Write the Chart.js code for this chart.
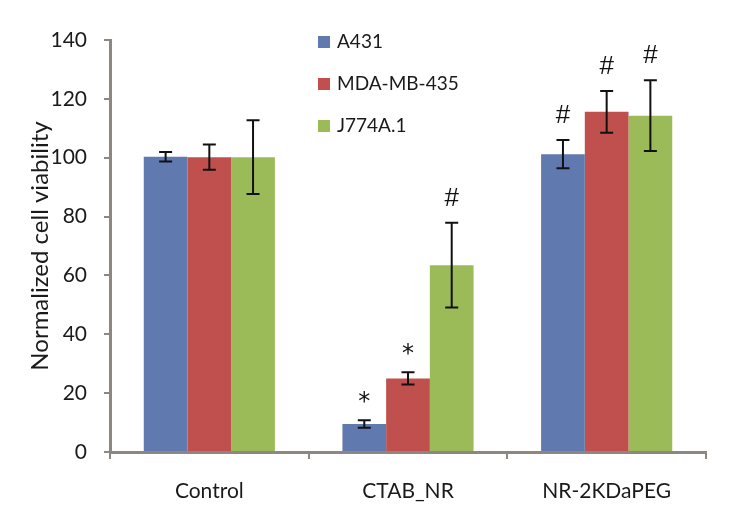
<!DOCTYPE html>
<html>
<head>
<meta charset="utf-8">
<script src="https://cdn.jsdelivr.net/npm/chart.js@4.4.1/dist/chart.umd.min.js"></script>
<style>
  html, body { margin: 0; padding: 0; background: #fff; }
  #wrap { width: 750px; height: 524px; }
</style>
</head>
<body>
<div id="wrap"><canvas id="cellChart" width="750" height="524"></canvas></div>
<script>
  const categories = ['Control', 'CTAB_NR', 'NR-2KDaPEG'];
  const seriesNames = ['A431', 'MDA-MB-435', 'J774A.1'];
  const seriesColors = ['#6079ae', '#bf504d', '#9bbb59'];

  const a431 = [100.3, 9.5, 101.2];
  const mdaMb435 = [100.2, 25.0, 115.6];
  const j774 = [100.2, 63.5, 114.3];

  const a431Err = [1.6, 1.3, 4.8];
  const mdaMb435Err = [4.3, 2.1, 7.1];
  const j774Err = [12.5, 14.4, 12.0];

  const a431Marks = ['', '*', '#'];
  const mdaMb435Marks = ['', '*', '#'];
  const j774Marks = ['', '#', '#'];

  const yTicks = [0, 20, 40, 60, 80, 100, 120, 140];

  const axisGray = '#8e8681';
  Chart.defaults.font.family = "Lato, 'Open Sans', Arial, sans-serif";
  Chart.defaults.color = '#1a1a1a';

  const values = [a431, mdaMb435, j774];
  const errors = [a431Err, mdaMb435Err, j774Err];
  const marks = [a431Marks, mdaMb435Marks, j774Marks];

  /* error bars + significance marks */
  const errorBars = {
    id: 'errorBars',
    afterDatasetsDraw(chart) {
      const ctx = chart.ctx;
      const y = chart.scales.y;
      ctx.save();
      chart.data.datasets.forEach((ds, di) => {
        chart.getDatasetMeta(di).data.forEach((bar, i) => {
          const v = values[di][i], e = errors[di][i];
          const top = y.getPixelForValue(v + e);
          const bot = y.getPixelForValue(v - e);
          ctx.strokeStyle = '#111';
          ctx.lineWidth = 2;
          ctx.beginPath();
          ctx.moveTo(bar.x, top); ctx.lineTo(bar.x, bot);
          ctx.moveTo(bar.x - 6.5, top); ctx.lineTo(bar.x + 6.5, top);
          ctx.moveTo(bar.x - 6.5, bot); ctx.lineTo(bar.x + 6.5, bot);
          ctx.stroke();
          const m = marks[di][i];
          if (m) {
            ctx.fillStyle = '#111';
            ctx.textAlign = 'center';
            ctx.textBaseline = 'middle';
            ctx.font = m === '*' ? "24px 'DejaVu Sans', sans-serif" : "26px 'Liberation Sans', sans-serif";
            ctx.fillText(m, bar.x, top - (m === '*' ? 17 : 24));
          }
        });
      });
      ctx.restore();
    }
  };

  /* legend drawn inside the plot */
  const innerLegend = {
    id: 'innerLegend',
    afterDraw(chart) {
      const ctx = chart.ctx;
      ctx.save();
      ctx.font = "19px Lato, 'Open Sans', sans-serif";
      ctx.textBaseline = 'middle';
      seriesNames.forEach((name, i) => {
        const yy = 42 + i * 42;
        ctx.fillStyle = seriesColors[i];
        ctx.fillRect(318, yy - 6, 12, 12);
        ctx.fillStyle = '#1a1a1a';
        ctx.fillText(name, 337, yy);
      });
      ctx.restore();
    }
  };

  new Chart(document.getElementById('cellChart').getContext('2d'), {
    type: 'bar',
    data: {
      labels: categories,
      datasets: seriesNames.map((name, i) => ({
        label: name,
        data: values[i],
        backgroundColor: seriesColors[i],
        borderWidth: 0,
        categoryPercentage: 0.66,
        barPercentage: 1.0
      }))
    },
    options: {
      responsive: false,
      animation: false,
      layout: { padding: { top: 40, right: 44, left: 22, bottom: 0 } },
      plugins: {
        legend: { display: false },
        tooltip: { enabled: false }
      },
      scales: {
        x: {
          grid: { display: true, drawOnChartArea: false, drawTicks: true, tickLength: 7, color: axisGray, lineWidth: 2, offset: true },
          border: { color: axisGray, width: 3 },
          ticks: { font: { size: 21 }, padding: 20 },
          afterFit: s => { s.height = 72; }
        },
        y: {
          min: 0, max: 140,
          afterBuildTicks: s => { s.ticks = yTicks.map(v => ({ value: v })); },
          grid: { display: true, drawOnChartArea: false, drawTicks: true, tickLength: 6, color: axisGray, lineWidth: 2 },
          border: { color: axisGray, width: 3 },
          ticks: { font: { size: 21 }, padding: 17 },
          title: { display: true, text: 'Normalized cell viability', font: { size: 24 }, padding: { bottom: 0 } },
          afterFit: s => { s.width = 88; }
        }
      }
    },
    plugins: [errorBars, innerLegend]
  });
</script>
</body>
</html>
